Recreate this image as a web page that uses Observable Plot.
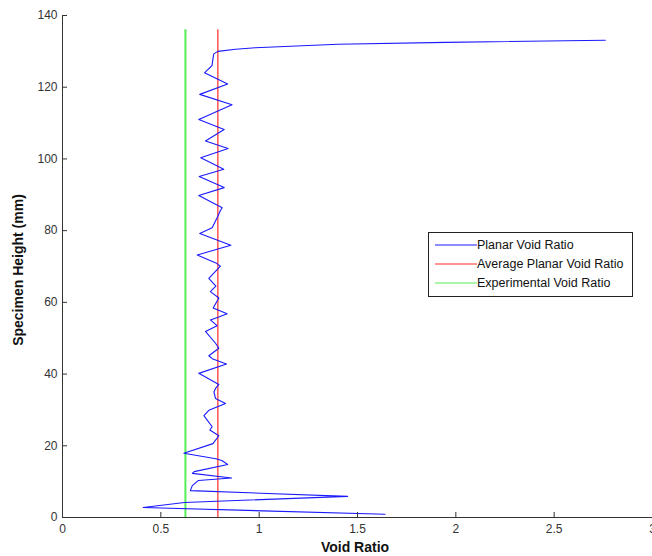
<!DOCTYPE html>
<html>
<head>
<meta charset="utf-8">
<script src="https://cdn.jsdelivr.net/npm/d3@7"></script>
<script src="https://cdn.jsdelivr.net/npm/@observablehq/plot@0.6"></script>
<style>
  html, body { margin: 0; padding: 0; background: #fff; }
  #wrap { position: relative; width: 652px; height: 556px; overflow: hidden; font-family: "Liberation Sans", Arial, sans-serif; }
  #legend { position: absolute; left: 428px; top: 232px; width: 205px; height: 65px; border: 1px solid #222; background: #fff; box-sizing: border-box; font-size: 12.5px; color: #111; }
  #legend .row { position: absolute; left: 0; height: 16px; line-height: 16px; white-space: nowrap; }
  #legend .row svg { position: absolute; left: 6px; top: 7px; }
  #legend .row span { position: absolute; left: 48px; top: 0; }
</style>
</head>
<body>
<div id="wrap"></div>
<script>
// Specimen height (mm) and planar void ratio, bottom to top
const heights = [0.9, 2.8, 4.2, 5.9, 7.5, 8.9, 10.3, 11.0, 12.3, 12.8, 14.8, 15.9, 16.4, 17.9, 20.6, 22.8, 24.4, 25.3, 28.4, 29.9, 31.8, 33.2, 35.0, 36.0, 37.1, 40.2, 42.8, 44.3, 45.1, 47.2, 48.6, 51.9, 53.5, 55.1, 55.9, 56.8, 58.4, 61.2, 63.0, 64.5, 66.7, 70.1, 71.0, 73.2, 75.9, 79.2, 80.8, 84.0, 85.6, 86.4, 89.8, 92.0, 95.1, 97.1, 100.3, 102.9, 105.0, 108.2, 111.0, 115.1, 118.0, 120.9, 124.0, 126.0, 129.3, 130.0, 130.6, 131.0, 132.0, 132.5, 133.1];
const planarVoid = [1.64, 0.41, 0.62, 1.45, 0.65, 0.66, 0.69, 0.86, 0.66, 0.67, 0.84, 0.81, 0.78, 0.617, 0.765, 0.795, 0.749, 0.761, 0.719, 0.744, 0.829, 0.778, 0.77, 0.778, 0.795, 0.693, 0.834, 0.761, 0.744, 0.795, 0.778, 0.727, 0.786, 0.752, 0.795, 0.837, 0.766, 0.795, 0.752, 0.78, 0.744, 0.803, 0.78, 0.685, 0.856, 0.698, 0.761, 0.79, 0.803, 0.812, 0.693, 0.822, 0.695, 0.82, 0.703, 0.842, 0.727, 0.822, 0.693, 0.862, 0.698, 0.84, 0.722, 0.76, 0.769, 0.79, 0.88, 0.98, 1.40, 1.95, 2.76];
const averageVoid = [0.79];
const experimentalVoid = [0.625];
const refLineHeight = [0, 136];
const xTicks = [0, 0.5, 1, 1.5, 2, 2.5, 3];
const yTicks = [0, 20, 40, 60, 80, 100, 120, 140];
const seriesNames = ["Planar Void Ratio", "Average Planar Void Ratio", "Experimental Void Ratio"];
const seriesColors = ["#1a1aff", "#ff2a2a", "#55ee55"];

const profile = heights.map((h, i) => ({h, v: planarVoid[i]}));

const chart = Plot.plot({
  width: 652,
  height: 556,
  marginLeft: 62,
  marginRight: 0,
  marginTop: 15,
  marginBottom: 39,
  style: {fontFamily: "'Liberation Sans', Arial, sans-serif", fontSize: "12px", color: "#333", background: "#fff", overflow: "visible"},
  x: {domain: [0, 3], label: null},
  y: {domain: [0, 140], label: null},
  marks: [
    Plot.ruleX(experimentalVoid, {y1: refLineHeight[0], y2: refLineHeight[1], stroke: seriesColors[2], strokeWidth: 2}),
    Plot.ruleX(averageVoid, {y1: refLineHeight[0], y2: refLineHeight[1], stroke: seriesColors[1], strokeWidth: 1.2}),
    Plot.line(profile, {x: "v", y: "h", stroke: seriesColors[0], strokeWidth: 1.1}),
    Plot.axisX({ticks: xTicks, tickFormat: d => String(d), tickSize: -5, tickPadding: 12, fontSize: 12, stroke: "#333", label: null}),
    Plot.axisY({ticks: yTicks, tickSize: -5, tickPadding: 10, fontSize: 12, stroke: "#333", label: null}),
    Plot.ruleX([0], {stroke: "#333"}),
    Plot.ruleY([0], {stroke: "#333"})
  ]
});

const wrap = document.getElementById("wrap");
chart.style.position = "absolute";
chart.style.left = "0px";
chart.style.top = "0px";
wrap.appendChild(chart);

// axis titles
const xt = document.createElement("div");
xt.textContent = "Void Ratio";
xt.style.cssText = "position:absolute;left:255px;width:200px;text-align:center;top:539px;font-size:14px;font-weight:bold;color:#111;";
wrap.appendChild(xt);
const yt = document.createElement("div");
yt.textContent = "Specimen Height (mm)";
yt.style.cssText = "position:absolute;left:-82px;top:262px;width:200px;text-align:center;font-size:14px;font-weight:bold;color:#111;transform:rotate(-90deg);";
wrap.appendChild(yt);

// legend
const leg = document.createElement("div");
leg.id = "legend";
seriesNames.forEach((name, i) => {
  const row = document.createElement("div");
  row.className = "row";
  row.style.top = (4 + i * 19) + "px";
  row.innerHTML = `<svg width="42" height="2"><line x1="0" y1="1" x2="42" y2="1" stroke="${seriesColors[i]}" stroke-width="1.2"/></svg><span>${name}</span>`;
  leg.appendChild(row);
});
wrap.appendChild(leg);
</script>
</body>
</html>
